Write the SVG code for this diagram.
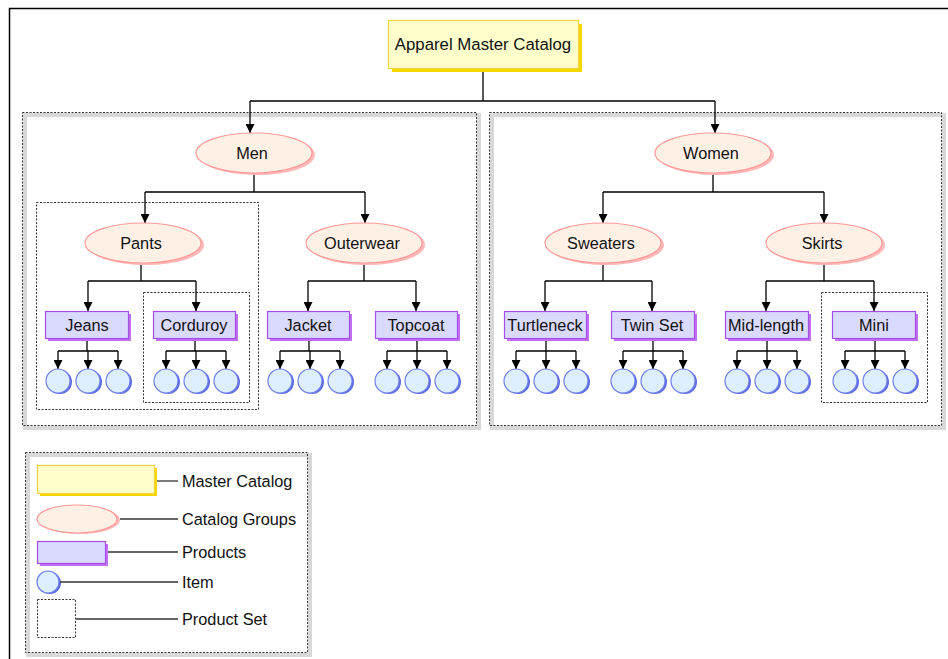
<svg xmlns="http://www.w3.org/2000/svg" width="948" height="659" viewBox="0 0 948 659">
  <defs>
    <style>
      text { font-family: "Liberation Sans", Arial, sans-serif; font-size: 16.3px; fill: #111; }
      .lbl { text-anchor: middle; }
      .wire { fill: none; stroke: #000; stroke-width: 1.3; }
      .wire-a { fill: none; stroke: #000; stroke-width: 1.3; marker-end: url(#arrow); }
      .leg { fill: none; stroke: #333; stroke-width: 1.3; }
      .set { fill: none; stroke: #333; stroke-width: 1; stroke-dasharray: 2 1.5; }
      .set-shadow { fill: none; stroke: #d8d8d8; stroke-width: 4; }
      .cat { fill: #ffffcc; stroke: #f5d040; stroke-width: 1.2; }
      .cat-sh { fill: #f5d800; }
      .grp { fill: #fff0e6; stroke: #ff9999; stroke-width: 1.2; }
      .grp-sh { fill: #ffb8b8; }
      .prod { fill: #dadaff; stroke: #a64de6; stroke-width: 1.2; }
      .prod-sh { fill: #c070f0; }
      .item { fill: #ddeeff; stroke: #7080e8; stroke-width: 1.2; }
      .item-sh { fill: #5a6ae0; }
    </style>
    <marker id="arrow" viewBox="0 0 10 10" refX="10" refY="5" markerWidth="10" markerHeight="9" markerUnits="userSpaceOnUse" orient="auto">
      <path d="M0,0 L10,5 L0,10 z" fill="#000"/>
    </marker>
  </defs>

  <!-- page frame -->
  <rect x="9.5" y="8.5" width="960" height="680" fill="#fff" stroke="#000" stroke-width="1.5"/>

  <!-- product sets / group frames -->
  <g id="set-men">
    <rect x="25" y="115" width="454" height="313" class="set-shadow"/>
    <rect x="22.5" y="112.5" width="454" height="313" fill="#fff" class="set"/>
  </g>
  <g id="set-women">
    <rect x="492" y="115" width="452" height="313" class="set-shadow"/>
    <rect x="489.5" y="112.5" width="452" height="313" fill="#fff" class="set"/>
  </g>
  <g id="set-pants"><rect x="36.5" y="202.5" width="222" height="207" class="set"/></g>
  <g id="set-corduroy"><rect x="143.5" y="292.5" width="106" height="110" class="set"/></g>
  <g id="set-mini"><rect x="821.5" y="292.5" width="106" height="110" class="set"/></g>

  <!-- connectors -->
  <g id="connectors">
    <path class="wire" d="M483,70 V101 M250,101 H715"/>
    <path class="wire-a" d="M250,101 V133"/>
    <path class="wire-a" d="M715,101 V133"/>

    <path class="wire" d="M254,173 V192 M145,192 H365"/>
    <path class="wire-a" d="M145,192 V223"/>
    <path class="wire-a" d="M365,192 V223"/>

    <path class="wire" d="M713,173 V192 M603,192 H824"/>
    <path class="wire-a" d="M603,192 V223"/>
    <path class="wire-a" d="M824,192 V223"/>

    <path class="wire" d="M141,263 V281 M88,281 H196"/>
    <path class="wire-a" d="M88,281 V311"/>
    <path class="wire-a" d="M196,281 V311"/>

    <path class="wire" d="M364,263 V281 M308,281 H416"/>
    <path class="wire-a" d="M308,281 V311"/>
    <path class="wire-a" d="M416,281 V311"/>

    <path class="wire" d="M603,263 V281 M545,281 H652"/>
    <path class="wire-a" d="M545,281 V311"/>
    <path class="wire-a" d="M652,281 V311"/>

    <path class="wire" d="M824,263 V281 M766,281 H874"/>
    <path class="wire-a" d="M766,281 V311"/>
    <path class="wire-a" d="M874,281 V311"/>

    <!-- product to item fans -->
    <path class="wire" d="M87,338 V351 M58,351 H118"/>
    <path class="wire-a" d="M58,351 V369"/><path class="wire-a" d="M88,351 V369"/><path class="wire-a" d="M118,351 V369"/>

    <path class="wire" d="M195,338 V351 M166,351 H226"/>
    <path class="wire-a" d="M166,351 V369"/><path class="wire-a" d="M196,351 V369"/><path class="wire-a" d="M226,351 V369"/>

    <path class="wire" d="M309,338 V351 M280,351 H340"/>
    <path class="wire-a" d="M280,351 V369"/><path class="wire-a" d="M310,351 V369"/><path class="wire-a" d="M340,351 V369"/>

    <path class="wire" d="M417,338 V351 M387,351 H447"/>
    <path class="wire-a" d="M387,351 V369"/><path class="wire-a" d="M417,351 V369"/><path class="wire-a" d="M447,351 V369"/>

    <path class="wire" d="M546,338 V351 M516,351 H576"/>
    <path class="wire-a" d="M516,351 V369"/><path class="wire-a" d="M546,351 V369"/><path class="wire-a" d="M576,351 V369"/>

    <path class="wire" d="M653,338 V351 M623,351 H683"/>
    <path class="wire-a" d="M623,351 V369"/><path class="wire-a" d="M653,351 V369"/><path class="wire-a" d="M683,351 V369"/>

    <path class="wire" d="M767,338 V351 M737,351 H797"/>
    <path class="wire-a" d="M737,351 V369"/><path class="wire-a" d="M767,351 V369"/><path class="wire-a" d="M797,351 V369"/>

    <path class="wire" d="M875,338 V351 M845,351 H905"/>
    <path class="wire-a" d="M845,351 V369"/><path class="wire-a" d="M875,351 V369"/><path class="wire-a" d="M905,351 V369"/>
  </g>

  <!-- master catalog -->
  <g id="master">
    <rect x="392" y="24" width="190" height="48" class="cat-sh"/>
    <rect x="388.5" y="20.5" width="190" height="48" class="cat"/>
    <text x="483" y="50" class="lbl" style="font-size:16.8px">Apparel Master Catalog</text>
  </g>

  <!-- catalog groups -->
  <g id="men">
    <ellipse cx="257" cy="155" rx="58" ry="20" class="grp-sh"/>
    <ellipse cx="254" cy="153" rx="58" ry="20" class="grp"/>
    <text x="252" y="159" class="lbl">Men</text>
  </g>
  <g id="women">
    <ellipse cx="716" cy="155" rx="58" ry="20" class="grp-sh"/>
    <ellipse cx="713" cy="153" rx="58" ry="20" class="grp"/>
    <text x="711" y="159" class="lbl">Women</text>
  </g>
  <g id="pants">
    <ellipse cx="146" cy="245" rx="58" ry="20" class="grp-sh"/>
    <ellipse cx="143" cy="243" rx="58" ry="20" class="grp"/>
    <text x="141" y="249" class="lbl">Pants</text>
  </g>
  <g id="outerwear">
    <ellipse cx="367" cy="245" rx="58" ry="20" class="grp-sh"/>
    <ellipse cx="364" cy="243" rx="58" ry="20" class="grp"/>
    <text x="362" y="249" class="lbl">Outerwear</text>
  </g>
  <g id="sweaters">
    <ellipse cx="606" cy="245" rx="58" ry="20" class="grp-sh"/>
    <ellipse cx="603" cy="243" rx="58" ry="20" class="grp"/>
    <text x="601" y="249" class="lbl">Sweaters</text>
  </g>
  <g id="skirts">
    <ellipse cx="827" cy="245" rx="58" ry="20" class="grp-sh"/>
    <ellipse cx="824" cy="243" rx="58" ry="20" class="grp"/>
    <text x="822" y="249" class="lbl">Skirts</text>
  </g>

  <!-- products -->
  <g id="jeans">
    <rect x="48" y="314" width="83" height="27" class="prod-sh"/>
    <rect x="45.5" y="311.5" width="83" height="27" class="prod"/>
    <text x="87" y="331" class="lbl">Jeans</text>
  </g>
  <g id="corduroy">
    <rect x="156" y="314" width="82" height="27" class="prod-sh"/>
    <rect x="153.5" y="311.5" width="82" height="27" class="prod"/>
    <text x="194" y="331" class="lbl">Corduroy</text>
  </g>
  <g id="jacket">
    <rect x="270" y="314" width="82" height="27" class="prod-sh"/>
    <rect x="267.5" y="311.5" width="82" height="27" class="prod"/>
    <text x="308" y="331" class="lbl">Jacket</text>
  </g>
  <g id="topcoat">
    <rect x="378" y="314" width="82" height="27" class="prod-sh"/>
    <rect x="375.5" y="311.5" width="82" height="27" class="prod"/>
    <text x="416" y="331" class="lbl">Topcoat</text>
  </g>
  <g id="turtleneck">
    <rect x="507" y="314" width="82" height="27" class="prod-sh"/>
    <rect x="504.5" y="311.5" width="82" height="27" class="prod"/>
    <text x="545" y="331" class="lbl">Turtleneck</text>
  </g>
  <g id="twinset">
    <rect x="614" y="314" width="83" height="27" class="prod-sh"/>
    <rect x="611.5" y="311.5" width="83" height="27" class="prod"/>
    <text x="652" y="331" class="lbl">Twin Set</text>
  </g>
  <g id="midlength">
    <rect x="728" y="314" width="83" height="27" class="prod-sh"/>
    <rect x="725.5" y="311.5" width="83" height="27" class="prod"/>
    <text x="766" y="331" class="lbl">Mid-length</text>
  </g>
  <g id="mini">
    <rect x="835" y="314" width="83" height="27" class="prod-sh"/>
    <rect x="832.5" y="311.5" width="83" height="27" class="prod"/>
    <text x="874" y="331" class="lbl">Mini</text>
  </g>

  <!-- items -->
  <g id="items">
    <g id="item-jeans-1"><circle cx="60" cy="382" r="12" class="item-sh"/><circle cx="58" cy="381" r="12" class="item"/></g>
    <g id="item-jeans-2"><circle cx="90" cy="382" r="12" class="item-sh"/><circle cx="88" cy="381" r="12" class="item"/></g>
    <g id="item-jeans-3"><circle cx="120" cy="382" r="12" class="item-sh"/><circle cx="118" cy="381" r="12" class="item"/></g>
    <g id="item-corduroy-1"><circle cx="168" cy="382" r="12" class="item-sh"/><circle cx="166" cy="381" r="12" class="item"/></g>
    <g id="item-corduroy-2"><circle cx="198" cy="382" r="12" class="item-sh"/><circle cx="196" cy="381" r="12" class="item"/></g>
    <g id="item-corduroy-3"><circle cx="228" cy="382" r="12" class="item-sh"/><circle cx="226" cy="381" r="12" class="item"/></g>
    <g id="item-jacket-1"><circle cx="282" cy="382" r="12" class="item-sh"/><circle cx="280" cy="381" r="12" class="item"/></g>
    <g id="item-jacket-2"><circle cx="312" cy="382" r="12" class="item-sh"/><circle cx="310" cy="381" r="12" class="item"/></g>
    <g id="item-jacket-3"><circle cx="342" cy="382" r="12" class="item-sh"/><circle cx="340" cy="381" r="12" class="item"/></g>
    <g id="item-topcoat-1"><circle cx="389" cy="382" r="12" class="item-sh"/><circle cx="387" cy="381" r="12" class="item"/></g>
    <g id="item-topcoat-2"><circle cx="419" cy="382" r="12" class="item-sh"/><circle cx="417" cy="381" r="12" class="item"/></g>
    <g id="item-topcoat-3"><circle cx="449" cy="382" r="12" class="item-sh"/><circle cx="447" cy="381" r="12" class="item"/></g>
    <g id="item-turtleneck-1"><circle cx="518" cy="382" r="12" class="item-sh"/><circle cx="516" cy="381" r="12" class="item"/></g>
    <g id="item-turtleneck-2"><circle cx="548" cy="382" r="12" class="item-sh"/><circle cx="546" cy="381" r="12" class="item"/></g>
    <g id="item-turtleneck-3"><circle cx="578" cy="382" r="12" class="item-sh"/><circle cx="576" cy="381" r="12" class="item"/></g>
    <g id="item-twinset-1"><circle cx="625" cy="382" r="12" class="item-sh"/><circle cx="623" cy="381" r="12" class="item"/></g>
    <g id="item-twinset-2"><circle cx="655" cy="382" r="12" class="item-sh"/><circle cx="653" cy="381" r="12" class="item"/></g>
    <g id="item-twinset-3"><circle cx="685" cy="382" r="12" class="item-sh"/><circle cx="683" cy="381" r="12" class="item"/></g>
    <g id="item-midlength-1"><circle cx="739" cy="382" r="12" class="item-sh"/><circle cx="737" cy="381" r="12" class="item"/></g>
    <g id="item-midlength-2"><circle cx="769" cy="382" r="12" class="item-sh"/><circle cx="767" cy="381" r="12" class="item"/></g>
    <g id="item-midlength-3"><circle cx="799" cy="382" r="12" class="item-sh"/><circle cx="797" cy="381" r="12" class="item"/></g>
    <g id="item-mini-1"><circle cx="847" cy="382" r="12" class="item-sh"/><circle cx="845" cy="381" r="12" class="item"/></g>
    <g id="item-mini-2"><circle cx="877" cy="382" r="12" class="item-sh"/><circle cx="875" cy="381" r="12" class="item"/></g>
    <g id="item-mini-3"><circle cx="907" cy="382" r="12" class="item-sh"/><circle cx="905" cy="381" r="12" class="item"/></g>
  </g>

  <!-- legend -->
  <g id="legend">
    <rect x="28" y="455" width="282" height="200" class="set-shadow"/>
    <rect x="25.5" y="452.5" width="282" height="200" fill="#fff" class="set"/>

    <rect x="40" y="468" width="117" height="28" class="cat-sh"/>
    <rect x="37.5" y="465.5" width="117" height="28" class="cat"/>
    <path class="leg" d="M157,481 H178"/>
    <text x="182" y="487">Master Catalog</text>

    <ellipse cx="80" cy="520" rx="40" ry="14" class="grp-sh"/>
    <ellipse cx="77" cy="519" rx="40" ry="14" class="grp"/>
    <path class="leg" d="M120,519 H178"/>
    <text x="182" y="525">Catalog Groups</text>

    <rect x="40" y="544" width="68" height="22" class="prod-sh"/>
    <rect x="37.5" y="541.5" width="68" height="22" class="prod"/>
    <path class="leg" d="M108,552 H178"/>
    <text x="182" y="558">Products</text>

    <circle cx="50" cy="583" r="11" class="item-sh"/>
    <circle cx="48" cy="582" r="11" class="item"/>
    <path class="leg" d="M60,582 H178"/>
    <text x="182" y="588">Item</text>

    <rect x="37.5" y="599.5" width="38" height="38" class="set"/>
    <path class="leg" d="M76,619 H178"/>
    <text x="182" y="625">Product Set</text>
  </g>
</svg>
